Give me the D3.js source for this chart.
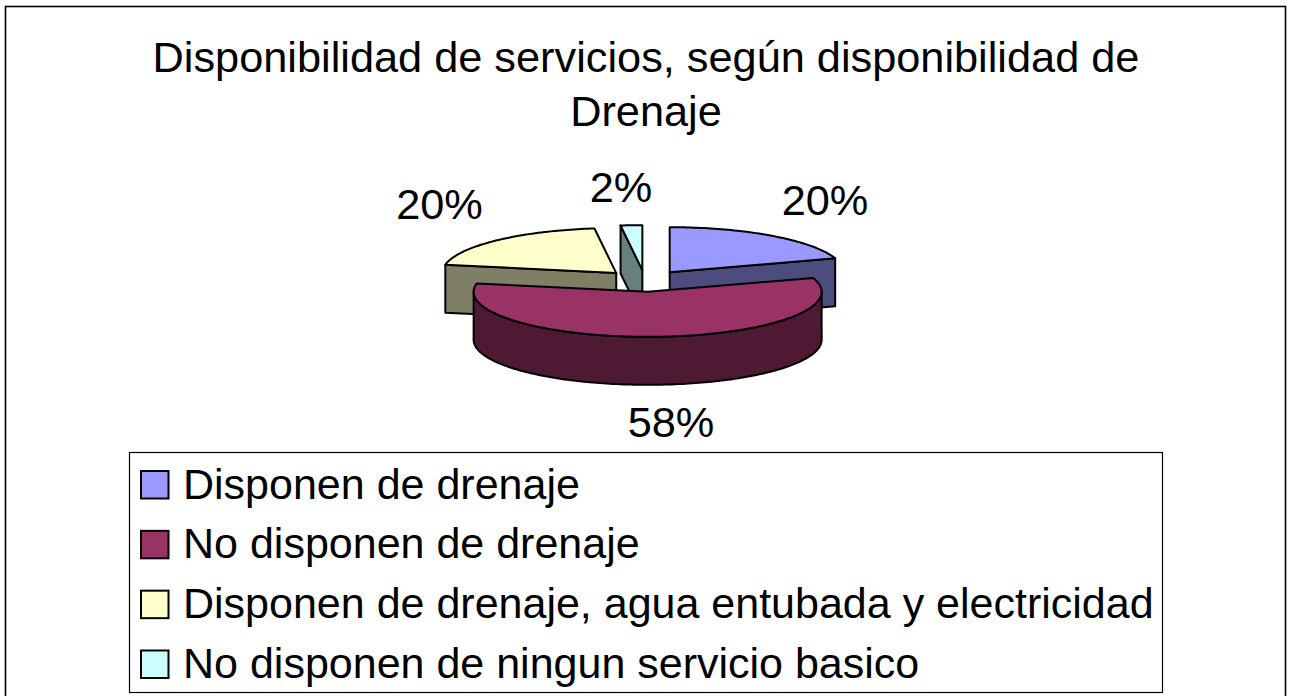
<!DOCTYPE html>
<html>
<head>
<meta charset="utf-8">
<script src="https://cdn.jsdelivr.net/npm/d3@7"></script>
<style>
  html, body { margin: 0; padding: 0; background: #fff; overflow: hidden; }
  text { font-family: "Liberation Sans", Arial, sans-serif; fill: #000; }
</style>
</head>
<body>
<svg id="chart" width="1289" height="696"></svg>
<script>
const categories = [
  "Disponen de drenaje",
  "No disponen de drenaje",
  "Disponen de drenaje, agua entubada y electricidad",
  "No disponen de ningun servicio basico"
];
const values = [20, 58, 20, 2];
const colors = ["#9999FF", "#993366", "#FFFFCC", "#CCFFFF"];
const sideColors = ["#4C4C7F", "#4D1933", "#7F7F66", "#667F7F"];
const titleLines = ["Disponibilidad de servicios, según disponibilidad de", "Drenaje"];

// ------------------
// Layout
// ------------------
const cx = 645, cy = 281;
const rx = 174, ry = 45, depth = 48;
const explode = 42, tilt = ry / rx;
const fontSize = 43.3;
const legendFontSize = 43;

const svg = d3.select("#chart");

// chart frame, bottom edge runs off the page
svg.append("rect")
  .attr("x", 5.5).attr("y", 6.5)
  .attr("width", 1280).attr("height", 700)
  .attr("fill", "#fff").attr("stroke", "#000").attr("stroke-width", 1.6);

svg.selectAll("text.title")
  .data(titleLines)
  .enter().append("text")
  .attr("class", "title")
  .attr("x", 646)
  .attr("y", (d, i) => 72 + i * 54)
  .attr("text-anchor", "middle")
  .attr("font-size", fontSize)
  .text(d => d);

// ------------------
// Pie
// ------------------
const slices = d3.pie().sort(null)(values).map((s, i) => {
  const mid = (s.startAngle + s.endAngle) / 2;
  return {
    ...s, i,
    ax: cx + Math.sin(mid) * explode,
    ay: cy - Math.cos(mid) * explode * tilt
  };
});

function rim(s, a, dy = 0) {
  return [s.ax + Math.sin(a) * rx, s.ay - Math.cos(a) * ry + dy];
}

function arcPoints(s, a0, a1, dy = 0) {
  const n = Math.max(2, Math.ceil(Math.abs(a1 - a0) / 0.02));
  return d3.range(n + 1).map(k => rim(s, a0 + (a1 - a0) * k / n, dy));
}

const line = d3.line();

function topFace(s) {
  return line([[s.ax, s.ay], ...arcPoints(s, s.startAngle, s.endAngle)]) + "Z";
}

// flat cut face along one radius of the slice
function cutFace(s, a) {
  const p = rim(s, a);
  return line([[s.ax, s.ay], p, [p[0], p[1] + depth], [s.ax, s.ay + depth]]) + "Z";
}

// curved front wall, only the part facing the viewer
function outerWall(s) {
  const a0 = Math.max(s.startAngle, Math.PI / 2);
  const a1 = Math.min(s.endAngle, Math.PI * 1.5);
  if (a1 <= a0) return null;
  return line([...arcPoints(s, a0, a1), ...arcPoints(s, a1, a0, depth)]) + "Z";
}

const pieG = svg.append("g")
  .attr("stroke", "#000").attr("stroke-width", 2).attr("stroke-linejoin", "round");

// back slices first, the big front slice goes on top
[slices[3], slices[2], slices[0], slices[1]].forEach(s => {
  const faces = [];
  if (s.i === 0) faces.push(cutFace(s, s.endAngle));
  if (s.i === 2) faces.push(cutFace(s, s.startAngle));
  if (s.i === 3) faces.push(cutFace(s, s.startAngle));
  const wall = outerWall(s);
  if (wall) faces.push(wall);
  faces.forEach(d => pieG.append("path").attr("d", d).attr("fill", sideColors[s.i]));
  pieG.append("path").attr("d", topFace(s)).attr("fill", colors[s.i]);
});

// ------------------
// Data labels
// ------------------
const labelPos = [[825, 215], [671, 437], [439.5, 219], [621, 202]];
svg.selectAll("text.label")
  .data(slices)
  .enter().append("text")
  .attr("class", "label")
  .attr("x", d => labelPos[d.i][0])
  .attr("y", d => labelPos[d.i][1])
  .attr("text-anchor", "middle")
  .attr("font-size", fontSize)
  .text(d => d.value + "%");

// ------------------
// Legend
// ------------------
const legendY = d3.scalePoint().domain(categories).range([484.5, 664]);

svg.append("rect")
  .attr("x", 129.5).attr("y", 452.5)
  .attr("width", 1033).attr("height", 240)
  .attr("fill", "#fff").attr("stroke", "#000").attr("stroke-width", 1.2);

const legend = svg.selectAll("g.legend")
  .data(categories)
  .enter().append("g")
  .attr("class", "legend")
  .attr("transform", d => `translate(0,${legendY(d)})`);

legend.append("rect")
  .attr("x", 141).attr("y", -13.5)
  .attr("width", 27.5).attr("height", 27.5)
  .attr("fill", (d, i) => colors[i])
  .attr("stroke", "#000").attr("stroke-width", 2);

legend.append("text")
  .attr("x", 183).attr("y", 14)
  .attr("font-size", legendFontSize)
  .text(d => d);
</script>
</body>
</html>
